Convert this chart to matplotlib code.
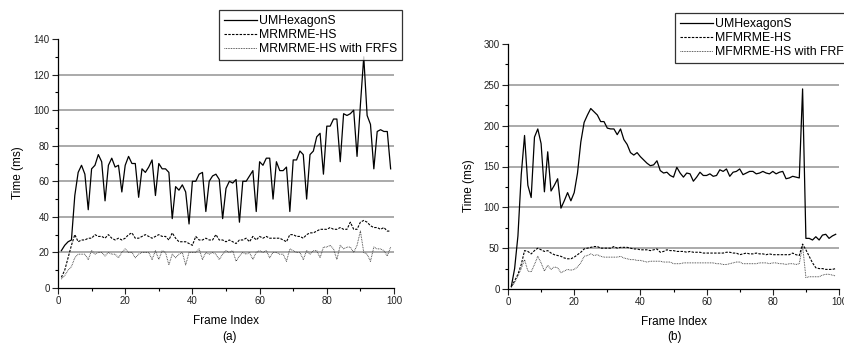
import numpy as np
import matplotlib
matplotlib.use("Agg")
import matplotlib.pyplot as plt
from matplotlib.ticker import MultipleLocator

plt.rcParams['font.family'] = ['Liberation Sans', 'DejaVu Sans']

frames = np.arange(1, 100)

# --- (a)
um_a = [21, 24, 26, 27, 52, 65, 69, 64, 44, 67, 69, 75, 71, 49, 69, 73, 68, 69, 54, 69,
        74, 70, 70, 51, 67, 65, 68, 72, 52, 70, 67, 67, 65, 39, 57, 55, 58, 54, 36, 60,
        60, 64, 65, 43, 60, 63, 64, 61, 39, 56, 60, 59, 61, 37, 60, 60, 63, 66, 43, 71,
        69, 73, 73, 50, 71, 66, 66, 68, 43, 72, 72, 77, 75, 50, 75, 77, 85, 87, 64, 91,
        91, 95, 95, 71, 98, 97, 98, 100, 74, 103, 130, 97, 92, 67, 88, 89, 88, 88, 67]
mr_a = [6, 10, 17, 24, 30, 26, 27, 27, 28, 28, 30, 29, 29, 28, 30, 28, 27, 28, 27, 28,
        30, 31, 28, 28, 29, 30, 29, 28, 29, 30, 29, 29, 27, 31, 28, 26, 26, 26, 25, 24,
        29, 27, 27, 28, 27, 27, 30, 27, 27, 26, 27, 26, 25, 27, 27, 28, 26, 29, 27, 29,
        28, 29, 28, 28, 28, 28, 27, 26, 30, 30, 29, 29, 28, 30, 31, 31, 32, 33, 33, 33,
        34, 33, 33, 34, 33, 33, 37, 33, 33, 37, 38, 37, 35, 34, 34, 33, 34, 32, 32]
fr_a = [5, 7, 10, 12, 17, 19, 19, 19, 16, 21, 19, 20, 20, 18, 20, 19, 19, 17, 20, 22,
        20, 20, 17, 19, 20, 20, 20, 16, 21, 16, 21, 20, 13, 19, 17, 19, 20, 13, 20, 20,
        20, 22, 16, 20, 19, 20, 19, 16, 19, 21, 20, 21, 15, 18, 20, 19, 20, 16, 20, 21,
        20, 21, 17, 20, 20, 19, 19, 15, 22, 21, 20, 20, 16, 21, 19, 21, 21, 17, 23, 23,
        24, 22, 16, 24, 22, 23, 23, 20, 24, 32, 20, 19, 15, 23, 22, 22, 21, 18, 23]

# --- (b)
um_b = [3, 25, 65, 140, 188, 127, 112, 186, 196, 178, 119, 168, 120, 127, 135, 99, 108, 118, 108, 118,
        142, 180, 204, 213, 221, 217, 213, 205, 205, 197, 196, 196, 189, 196, 183, 177, 167, 164, 167, 162,
        158, 154, 151, 152, 157, 145, 142, 143, 139, 137, 149, 142, 137, 142, 141, 132, 137, 143, 139, 139,
        141, 138, 139, 146, 144, 147, 138, 143, 144, 147, 140, 142, 144, 144, 141, 142, 144, 142, 141, 144,
        141, 143, 144, 135, 136, 138, 137, 136, 245, 62, 62, 60, 64, 60, 66, 67, 62, 65, 67]
mf_b = [3, 10, 18, 30, 47, 46, 43, 47, 50, 48, 46, 47, 44, 42, 41, 40, 38, 37, 37, 39,
        42, 45, 49, 50, 51, 52, 52, 50, 50, 50, 50, 52, 50, 51, 51, 51, 50, 49, 49, 48,
        48, 48, 47, 48, 49, 45, 46, 48, 47, 47, 46, 46, 46, 45, 46, 45, 45, 45, 44, 44,
        44, 44, 44, 44, 44, 45, 45, 44, 44, 42, 43, 44, 43, 43, 44, 43, 43, 42, 43, 42,
        42, 42, 42, 42, 42, 44, 42, 41, 55, 48, 40, 32, 26, 25, 25, 24, 24, 24, 25]
fr_b = [2, 8, 16, 25, 36, 22, 21, 30, 40, 32, 22, 29, 24, 27, 26, 20, 22, 24, 23, 24,
        27, 32, 40, 41, 43, 41, 42, 40, 39, 39, 39, 39, 39, 40, 38, 37, 36, 36, 35, 35,
        34, 33, 34, 34, 34, 34, 33, 33, 33, 31, 31, 31, 32, 32, 32, 32, 32, 32, 32, 32,
        32, 32, 31, 31, 30, 30, 31, 32, 33, 33, 31, 31, 31, 31, 31, 32, 32, 32, 31, 32,
        32, 31, 31, 30, 31, 31, 30, 31, 53, 14, 15, 15, 15, 15, 17, 18, 18, 17, 16]

names_a = ['UMHexagonS', 'MRMRME-HS', 'MRMRME-HS with FRFS']
names_b = ['UMHexagonS', 'MFMRME-HS', 'MFMRME-HS with FRFS']

fig = plt.figure(figsize=(8.44, 3.44), dpi=100)
ax1 = fig.add_axes([58 / 844, 1 - 288 / 344, 336 / 844, 249 / 344])
ax2 = fig.add_axes([508 / 844, 1 - 289 / 344, 331 / 844, 245 / 344])


def draw(ax, series, names, ymax, ystep, yminor, leg_x, leg_y):
    # --- horizontal grid lines (no line at the top limit)
    for yv in np.arange(ystep, ymax, ystep):
        ax.axhline(yv, color='#939393', lw=1.1, zorder=0)
    ax.plot(frames, series[0], color='black', lw=0.9, label=names[0])
    ax.plot(frames, series[1], color='black', lw=0.8, dashes=(2.2, 1.2), label=names[1])
    ax.plot(frames, series[2], color='#3a3a3a', lw=0.7, dashes=(0.8, 0.9), label=names[2])
    ax.set_xlim(0, 100)
    ax.set_ylim(0, ymax)
    ax.xaxis.set_major_locator(MultipleLocator(20))
    ax.xaxis.set_minor_locator(MultipleLocator(10))
    ax.yaxis.set_major_locator(MultipleLocator(ystep))
    ax.yaxis.set_minor_locator(MultipleLocator(yminor))
    for s in ['top', 'right']:
        ax.spines[s].set_visible(False)
    for s in ['left', 'bottom']:
        ax.spines[s].set_linewidth(0.9)
    ax.tick_params(which='major', direction='out', length=4, width=0.8,
                   labelsize=7, colors='#222222', pad=2)
    ax.tick_params(which='minor', direction='out', length=2.5, width=0.8)
    leg = fig.legend(*ax.get_legend_handles_labels(), loc='upper left',
                     bbox_to_anchor=(leg_x, leg_y), bbox_transform=fig.transFigure,
                     fontsize=8.8, frameon=True, fancybox=False, handlelength=2.7,
                     handletextpad=0.2, borderpad=0.4, labelspacing=0.18,
                     borderaxespad=0)
    leg.get_frame().set_edgecolor('black')
    leg.get_frame().set_linewidth(0.9)


draw(ax1, [um_a, mr_a, fr_a], names_a, 140, 20, 10, 219 / 844, 1 - 10 / 344)
draw(ax2, [um_b, mf_b, fr_b], names_b, 300, 50, 25, 675 / 844, 1 - 13 / 344)

fig.text(226 / 844, 1 - 321 / 344, 'Frame Index', ha='center', va='center', fontsize=8.5)
fig.text(230 / 844, 1 - 337 / 344, '(a)', ha='center', va='center', fontsize=8.5)
fig.text(18 / 844, 1 - 173 / 344, 'Time (ms)', ha='center', va='center', fontsize=8.5, rotation=90)
fig.text(674 / 844, 1 - 322 / 344, 'Frame Index', ha='center', va='center', fontsize=8.5)
fig.text(675 / 844, 1 - 337 / 344, '(b)', ha='center', va='center', fontsize=8.5)
fig.text(469 / 844, 1 - 186 / 344, 'Time (ms)', ha='center', va='center', fontsize=8.5, rotation=90)

fig.savefig('out.png', dpi=100)
